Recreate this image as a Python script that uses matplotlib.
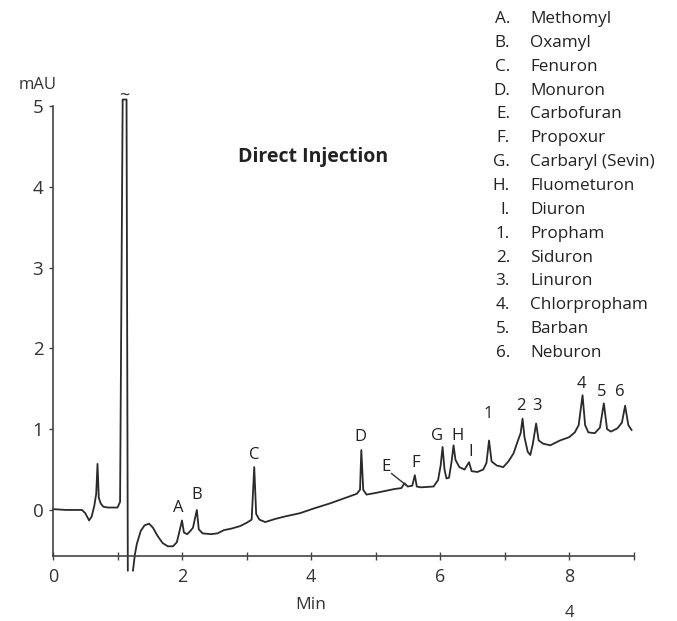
import matplotlib
matplotlib.use("Agg")
import matplotlib.pyplot as plt

plt.rcParams['font.family'] = ['Open Sans', 'DejaVu Sans']

# retention time (min) / signal (mAU), before the solvent front
t_front = [0.0, 0.20, 0.45, 0.50, 0.56, 0.60, 0.64, 0.67, 0.69, 0.71, 0.74,
           0.78, 0.85, 1.00, 1.04, 1.08, 1.14, 1.16]
s_front = [0.01, 0.0, 0.0, -0.04, -0.13, -0.08, 0.05, 0.20, 0.57, 0.15, 0.08,
           0.04, 0.03, 0.03, 0.10, 5.08, 5.08, -0.75]

# after the solvent front
t_main = [1.24, 1.27, 1.30, 1.36, 1.42, 1.49, 1.55, 1.62, 1.70, 1.78, 1.86,
          1.92, 1.95, 2.00, 2.03, 2.08, 2.13, 2.17, 2.23, 2.26, 2.32, 2.45,
          2.55, 2.65, 2.77, 2.90, 3.00, 3.08, 3.12, 3.15, 3.20, 3.29, 3.45,
          3.60, 3.83, 4.05, 4.29, 4.50, 4.71, 4.76, 4.78, 4.81, 4.86, 5.00,
          5.12, 5.30, 5.40, 5.45, 5.50, 5.57, 5.61, 5.64, 5.70, 5.90, 5.97,
          6.01, 6.04, 6.07, 6.10, 6.14, 6.18, 6.21, 6.24, 6.30, 6.38, 6.45,
          6.49, 6.58, 6.67, 6.72, 6.76, 6.80, 6.88, 6.98, 7.06, 7.14, 7.20,
          7.25, 7.28, 7.31, 7.36, 7.40, 7.44, 7.49, 7.53, 7.60, 7.71, 7.86,
          8.00, 8.09, 8.15, 8.21, 8.25, 8.30, 8.40, 8.48, 8.54, 8.59, 8.65,
          8.75, 8.82, 8.87, 8.92, 8.97]
s_main = [-0.75, -0.55, -0.42, -0.26, -0.19, -0.17, -0.22, -0.32, -0.41, -0.45, -0.45,
          -0.40, -0.30, -0.13, -0.28, -0.30, -0.26, -0.22, 0.0, -0.24, -0.29, -0.30,
          -0.29, -0.25, -0.23, -0.20, -0.16, -0.12, 0.53, -0.05, -0.12, -0.15, -0.11,
          -0.08, -0.04, 0.02, 0.08, 0.14, 0.20, 0.25, 0.74, 0.25, 0.19, 0.21,
          0.23, 0.26, 0.27, 0.33, 0.29, 0.30, 0.43, 0.29, 0.28, 0.29, 0.37,
          0.55, 0.78, 0.50, 0.39, 0.40, 0.60, 0.80, 0.62, 0.53, 0.50, 0.59,
          0.48, 0.47, 0.50, 0.58, 0.86, 0.60, 0.55, 0.53, 0.60, 0.70, 0.84,
          0.95, 1.13, 0.90, 0.72, 0.68, 0.82, 1.07, 0.86, 0.82, 0.80, 0.86,
          0.90, 0.96, 1.05, 1.42, 1.05, 0.96, 0.95, 1.02, 1.32, 1.00, 0.97,
          1.01, 1.08, 1.29, 1.05, 0.99]

# peak labels and where they sit (label centres)
peak_tags = ['A', 'B', 'C', 'D', 'E', 'F', 'G', 'H', 'I', '1', '2', '3', '4', '5', '6']
tag_x = [1.94, 2.23, 3.12, 4.76, 5.16, 5.62, 5.95, 6.27, 6.48, 6.75, 7.26, 7.50, 8.20, 8.50, 8.79]
tag_y = [0.02, 0.18, 0.68, 0.90, 0.53, 0.58, 0.92, 0.92, 0.72, 1.19, 1.29, 1.29, 1.56, 1.46, 1.46]

compounds = ['Methomyl', 'Oxamyl', 'Fenuron', 'Monuron', 'Carbofuran', 'Propoxur',
             'Carbaryl (Sevin)', 'Fluometuron', 'Diuron', 'Propham', 'Siduron',
             'Linuron', 'Chlorpropham', 'Barban', 'Neburon']

fig = plt.figure(figsize=(6.77, 6.21), dpi=100)
ax = fig.add_axes([53 / 677, 65 / 621, 580.5 / 677, 450 / 621])

line_kw = dict(color='#2a2a2a', lw=1.3, clip_on=False)
ax.plot(t_front, s_front, **line_kw)
ax.plot(t_main, s_main, **line_kw)

ax.set_xlim(0, 9)
ax.set_ylim(-0.57, 5.0)
for side in ['top', 'right']:
    ax.spines[side].set_visible(False)
for side in ['left', 'bottom']:
    ax.spines[side].set_color('#444444')
    ax.spines[side].set_linewidth(1.2)

ax.set_xticks(range(0, 10))
ax.set_xticklabels(['0', '', '2', '', '4', '', '6', '', '8', ''])
ax.set_yticks(range(0, 6))
ax.tick_params(axis='x', direction='inout', length=6, width=1, colors='#444444',
               labelcolor='#333333', labelsize=13, pad=6)
ax.tick_params(axis='y', direction='out', length=3, width=1, colors='#444444',
               labelcolor='#333333', labelsize=13.5, pad=4)

# broken solvent front
ax.text(1.11, 5.02, '~', ha='center', va='bottom', fontsize=13, color='#333333')

for tag, x, y in zip(peak_tags, tag_x, tag_y):
    ax.text(x, y, tag, ha='center', va='center', fontsize=12, color='#222222')
ax.plot([5.25, 5.47], [0.45, 0.31], color='#333333', lw=1)

ax.text(4.03, 4.37, 'Direct Injection', ha='center', va='center', fontsize=14,
        fontweight='bold', color='#222222')

codes = [c + '.' for c in peak_tags]
for i, (code, name) in enumerate(zip(codes, compounds)):
    ypx = 19 + i * 23.85
    fig.text(510 / 677, 1 - ypx / 621, code, ha='right', va='center', fontsize=12.3, color='#222222')
    fig.text(530 / 677, 1 - ypx / 621, name, ha='left', va='center', fontsize=12.3, color='#222222')

fig.text(38 / 677, 1 - 85 / 621, 'mAU', ha='center', va='center', fontsize=12, color='#333333')
fig.text(311 / 677, 1 - 605 / 621, 'Min', ha='center', va='center', fontsize=12.5, color='#333333')
fig.text(569 / 677, 1 - 613 / 621, '4', ha='center', va='center', fontsize=12, color='#333333')

fig.savefig('out.png', dpi=100)
